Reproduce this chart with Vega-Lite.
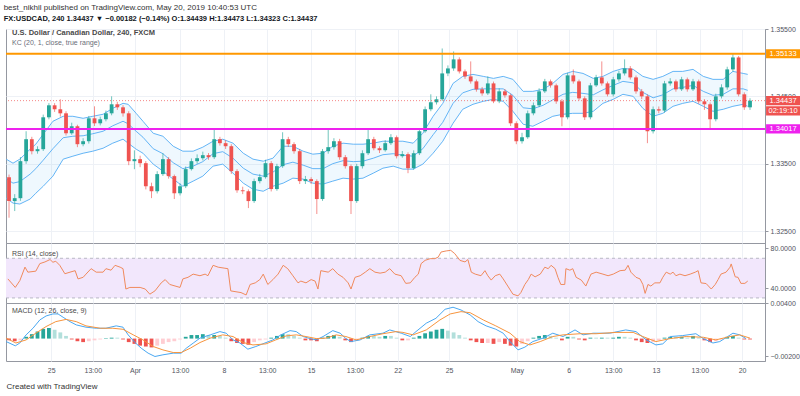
{
  "$schema": "https://vega.github.io/schema/vega-lite/v6.json",
  "background": "white",
  "padding": {"left": 3, "top": 4, "right": 0, "bottom": 0},
  "bounds": "flush",
  "spacing": 0,
  "resolve": {"scale": {"color": "independent"}},
  "title": {
    "text": "best_nikhil published on TradingView.com, May 20, 2019 10:40:53 UTC",
    "subtitle": "FX:USDCAD, 240  1.34437 ▼ −0.00182 (−0.14%)  O:1.34439  H:1.34473  L:1.34323  C:1.34437",
    "anchor": "start", "font": "Liberation Sans", "fontSize": 8, "fontWeight": "normal", "color": "#333333",
    "subtitleFont": "Liberation Sans", "subtitleFontSize": 7.5, "subtitleFontWeight": "bold", "subtitleColor": "#131722",
    "subtitlePadding": 3, "offset": 2
  },
  "datasets": {
    "candles": [
      {"i":0,"o":1.33302,"h":1.33340,"l":1.32700,"c":1.32947},
      {"i":1,"o":1.32947,"h":1.33050,"l":1.32799,"c":1.32990},
      {"i":2,"o":1.32990,"h":1.33600,"l":1.32950,"c":1.33539},
      {"i":3,"o":1.33539,"h":1.33983,"l":1.33500,"c":1.33865},
      {"i":4,"o":1.33865,"h":1.33900,"l":1.33640,"c":1.33687},
      {"i":5,"o":1.33687,"h":1.33760,"l":1.33650,"c":1.33717},
      {"i":6,"o":1.33717,"h":1.34230,"l":1.33690,"c":1.34190},
      {"i":7,"o":1.34190,"h":1.34400,"l":1.34160,"c":1.34368},
      {"i":8,"o":1.34368,"h":1.34400,"l":1.34270,"c":1.34309},
      {"i":9,"o":1.34309,"h":1.34457,"l":1.34200,"c":1.34249},
      {"i":10,"o":1.34249,"h":1.34280,"l":1.33920,"c":1.33953},
      {"i":11,"o":1.33953,"h":1.34110,"l":1.33930,"c":1.34057},
      {"i":12,"o":1.34057,"h":1.34080,"l":1.33747,"c":1.33791},
      {"i":13,"o":1.33791,"h":1.33880,"l":1.33760,"c":1.33835},
      {"i":14,"o":1.33835,"h":1.34210,"l":1.33800,"c":1.34175},
      {"i":15,"o":1.34175,"h":1.34353,"l":1.34060,"c":1.34101},
      {"i":16,"o":1.34101,"h":1.34200,"l":1.34070,"c":1.34161},
      {"i":17,"o":1.34161,"h":1.34290,"l":1.34130,"c":1.34249},
      {"i":18,"o":1.34249,"h":1.34501,"l":1.34220,"c":1.34383},
      {"i":19,"o":1.34383,"h":1.34420,"l":1.34300,"c":1.34338},
      {"i":20,"o":1.34338,"h":1.34370,"l":1.34200,"c":1.34249},
      {"i":21,"o":1.34249,"h":1.34280,"l":1.33480,"c":1.33539},
      {"i":22,"o":1.33539,"h":1.33700,"l":1.33420,"c":1.33569},
      {"i":23,"o":1.33569,"h":1.33620,"l":1.33450,"c":1.33509},
      {"i":24,"o":1.33509,"h":1.33540,"l":1.33120,"c":1.33167},
      {"i":25,"o":1.33167,"h":1.33220,"l":1.32991,"c":1.33093},
      {"i":26,"o":1.33093,"h":1.33390,"l":1.33060,"c":1.33347},
      {"i":27,"o":1.33347,"h":1.33657,"l":1.33320,"c":1.33569},
      {"i":28,"o":1.33569,"h":1.33600,"l":1.33280,"c":1.33317},
      {"i":29,"o":1.33317,"h":1.33340,"l":1.32977,"c":1.33063},
      {"i":30,"o":1.33063,"h":1.33210,"l":1.33030,"c":1.33167},
      {"i":31,"o":1.33167,"h":1.33460,"l":1.33140,"c":1.33421},
      {"i":32,"o":1.33421,"h":1.33580,"l":1.33400,"c":1.33539},
      {"i":33,"o":1.33539,"h":1.33640,"l":1.33500,"c":1.33583},
      {"i":34,"o":1.33583,"h":1.33680,"l":1.33550,"c":1.33628},
      {"i":35,"o":1.33628,"h":1.33660,"l":1.33560,"c":1.33598},
      {"i":36,"o":1.33598,"h":1.34013,"l":1.33570,"c":1.33865},
      {"i":37,"o":1.33865,"h":1.33900,"l":1.33770,"c":1.33806},
      {"i":38,"o":1.33806,"h":1.33850,"l":1.33720,"c":1.33761},
      {"i":39,"o":1.33761,"h":1.33790,"l":1.33350,"c":1.33391},
      {"i":40,"o":1.33391,"h":1.33420,"l":1.33070,"c":1.33107},
      {"i":41,"o":1.33107,"h":1.33160,"l":1.33050,"c":1.33093},
      {"i":42,"o":1.33093,"h":1.33120,"l":1.32843,"c":1.32947},
      {"i":43,"o":1.32947,"h":1.33280,"l":1.32920,"c":1.33243},
      {"i":44,"o":1.33243,"h":1.33350,"l":1.33210,"c":1.33302},
      {"i":45,"o":1.33302,"h":1.33560,"l":1.33280,"c":1.33509},
      {"i":46,"o":1.33509,"h":1.33540,"l":1.33090,"c":1.33125},
      {"i":47,"o":1.33125,"h":1.33500,"l":1.33100,"c":1.33465},
      {"i":48,"o":1.33465,"h":1.33968,"l":1.33440,"c":1.33865},
      {"i":49,"o":1.33865,"h":1.33900,"l":1.33750,"c":1.33791},
      {"i":50,"o":1.33791,"h":1.33820,"l":1.33650,"c":1.33687},
      {"i":51,"o":1.33687,"h":1.33720,"l":1.33200,"c":1.33243},
      {"i":52,"o":1.33243,"h":1.33320,"l":1.33200,"c":1.33273},
      {"i":53,"o":1.33273,"h":1.33300,"l":1.33200,"c":1.33243},
      {"i":54,"o":1.33243,"h":1.33270,"l":1.32755,"c":1.32977},
      {"i":55,"o":1.32977,"h":1.33720,"l":1.32950,"c":1.33687},
      {"i":56,"o":1.33687,"h":1.34013,"l":1.33650,"c":1.33747},
      {"i":57,"o":1.33747,"h":1.33880,"l":1.33710,"c":1.33835},
      {"i":58,"o":1.33835,"h":1.33870,"l":1.33560,"c":1.33598},
      {"i":59,"o":1.33598,"h":1.33630,"l":1.33430,"c":1.33465},
      {"i":60,"o":1.33465,"h":1.33490,"l":1.32755,"c":1.32947},
      {"i":61,"o":1.32947,"h":1.33500,"l":1.32920,"c":1.33465},
      {"i":62,"o":1.33465,"h":1.33700,"l":1.33430,"c":1.33657},
      {"i":63,"o":1.33657,"h":1.34013,"l":1.33630,"c":1.33865},
      {"i":64,"o":1.33865,"h":1.33900,"l":1.33700,"c":1.33731},
      {"i":65,"o":1.33731,"h":1.33760,"l":1.33660,"c":1.33702},
      {"i":66,"o":1.33702,"h":1.33850,"l":1.33680,"c":1.33806},
      {"i":67,"o":1.33806,"h":1.33940,"l":1.33780,"c":1.33894},
      {"i":68,"o":1.33894,"h":1.33920,"l":1.33580,"c":1.33613},
      {"i":69,"o":1.33613,"h":1.33690,"l":1.33590,"c":1.33643},
      {"i":70,"o":1.33643,"h":1.33670,"l":1.33361,"c":1.33435},
      {"i":71,"o":1.33435,"h":1.33700,"l":1.33410,"c":1.33657},
      {"i":72,"o":1.33657,"h":1.34020,"l":1.33630,"c":1.33983},
      {"i":73,"o":1.33983,"h":1.34350,"l":1.33960,"c":1.34309},
      {"i":74,"o":1.34309,"h":1.34531,"l":1.34280,"c":1.34413},
      {"i":75,"o":1.34413,"h":1.34500,"l":1.34380,"c":1.34457},
      {"i":76,"o":1.34457,"h":1.35211,"l":1.34430,"c":1.34841},
      {"i":77,"o":1.34841,"h":1.34960,"l":1.34800,"c":1.34915},
      {"i":78,"o":1.34915,"h":1.35167,"l":1.34880,"c":1.35049},
      {"i":79,"o":1.35049,"h":1.35080,"l":1.34840,"c":1.34871},
      {"i":80,"o":1.34871,"h":1.34900,"l":1.34760,"c":1.34797},
      {"i":81,"o":1.34797,"h":1.35019,"l":1.34690,"c":1.34723},
      {"i":82,"o":1.34723,"h":1.34750,"l":1.34570,"c":1.34605},
      {"i":83,"o":1.34605,"h":1.34640,"l":1.34510,"c":1.34545},
      {"i":84,"o":1.34545,"h":1.34797,"l":1.34520,"c":1.34693},
      {"i":85,"o":1.34693,"h":1.34720,"l":1.34400,"c":1.34427},
      {"i":86,"o":1.34427,"h":1.34620,"l":1.34400,"c":1.34575},
      {"i":87,"o":1.34575,"h":1.34610,"l":1.34480,"c":1.34516},
      {"i":88,"o":1.34516,"h":1.34540,"l":1.34060,"c":1.34101},
      {"i":89,"o":1.34101,"h":1.34130,"l":1.33791,"c":1.33835},
      {"i":90,"o":1.33835,"h":1.33960,"l":1.33800,"c":1.33894},
      {"i":91,"o":1.33894,"h":1.34290,"l":1.33870,"c":1.34249},
      {"i":92,"o":1.34249,"h":1.34410,"l":1.34220,"c":1.34368},
      {"i":93,"o":1.34368,"h":1.34620,"l":1.34340,"c":1.34575},
      {"i":94,"o":1.34575,"h":1.34760,"l":1.34550,"c":1.34723},
      {"i":95,"o":1.34723,"h":1.34750,"l":1.34630,"c":1.34664},
      {"i":96,"o":1.34664,"h":1.34690,"l":1.34390,"c":1.34427},
      {"i":97,"o":1.34427,"h":1.34460,"l":1.34057,"c":1.34190},
      {"i":98,"o":1.34190,"h":1.34850,"l":1.34160,"c":1.34812},
      {"i":99,"o":1.34812,"h":1.34900,"l":1.34690,"c":1.34723},
      {"i":100,"o":1.34723,"h":1.34750,"l":1.34440,"c":1.34471},
      {"i":101,"o":1.34471,"h":1.34500,"l":1.34150,"c":1.34190},
      {"i":102,"o":1.34190,"h":1.34700,"l":1.34160,"c":1.34664},
      {"i":103,"o":1.34664,"h":1.34820,"l":1.34640,"c":1.34782},
      {"i":104,"o":1.34782,"h":1.35019,"l":1.34660,"c":1.34693},
      {"i":105,"o":1.34693,"h":1.34720,"l":1.34500,"c":1.34531},
      {"i":106,"o":1.34531,"h":1.34790,"l":1.34500,"c":1.34753},
      {"i":107,"o":1.34753,"h":1.34880,"l":1.34720,"c":1.34841},
      {"i":108,"o":1.34841,"h":1.35049,"l":1.34810,"c":1.34915},
      {"i":109,"o":1.34915,"h":1.34950,"l":1.34750,"c":1.34782},
      {"i":110,"o":1.34782,"h":1.34810,"l":1.34540,"c":1.34575},
      {"i":111,"o":1.34575,"h":1.34610,"l":1.34460,"c":1.34501},
      {"i":112,"o":1.34501,"h":1.34530,"l":1.33806,"c":1.33983},
      {"i":113,"o":1.33983,"h":1.34350,"l":1.33950,"c":1.34309},
      {"i":114,"o":1.34309,"h":1.34350,"l":1.34250,"c":1.34290},
      {"i":115,"o":1.34290,"h":1.34730,"l":1.34260,"c":1.34693},
      {"i":116,"o":1.34693,"h":1.34770,"l":1.34660,"c":1.34723},
      {"i":117,"o":1.34723,"h":1.34750,"l":1.34570,"c":1.34605},
      {"i":118,"o":1.34605,"h":1.34790,"l":1.34580,"c":1.34753},
      {"i":119,"o":1.34753,"h":1.34780,"l":1.34570,"c":1.34605},
      {"i":120,"o":1.34605,"h":1.34760,"l":1.34580,"c":1.34723},
      {"i":121,"o":1.34723,"h":1.34750,"l":1.34390,"c":1.34427},
      {"i":122,"o":1.34427,"h":1.34460,"l":1.34300,"c":1.34383},
      {"i":123,"o":1.34383,"h":1.34410,"l":1.34027,"c":1.34161},
      {"i":124,"o":1.34161,"h":1.34540,"l":1.34130,"c":1.34501},
      {"i":125,"o":1.34501,"h":1.34680,"l":1.34470,"c":1.34634},
      {"i":126,"o":1.34634,"h":1.34940,"l":1.34600,"c":1.34901},
      {"i":127,"o":1.34901,"h":1.35137,"l":1.34870,"c":1.35078},
      {"i":128,"o":1.35078,"h":1.35100,"l":1.34500,"c":1.34531},
      {"i":129,"o":1.34531,"h":1.34560,"l":1.34300,"c":1.34338},
      {"i":130,"o":1.34338,"h":1.34473,"l":1.34300,"c":1.34437}
    ],
    "kc": [
      {"i":-0.5,"u":1.33569,"m":1.33280,"l":1.32991},
      {"i":0.7,"u":1.33509,"m":1.33213,"l":1.32917},
      {"i":1.9,"u":1.33569,"m":1.33236,"l":1.32903},
      {"i":3.7,"u":1.33717,"m":1.33347,"l":1.32977},
      {"i":4.7,"u":1.33791,"m":1.33428,"l":1.33063},
      {"i":6.0,"u":1.33939,"m":1.33554,"l":1.33167},
      {"i":7.7,"u":1.34131,"m":1.33724,"l":1.33317},
      {"i":9.5,"u":1.34205,"m":1.33887,"l":1.33569},
      {"i":11.2,"u":1.34205,"m":1.33909,"l":1.33613},
      {"i":13.0,"u":1.34175,"m":1.33916,"l":1.33657},
      {"i":14.7,"u":1.34205,"m":1.33946,"l":1.33687},
      {"i":16.5,"u":1.34235,"m":1.33983,"l":1.33731},
      {"i":18.2,"u":1.34323,"m":1.34064,"l":1.33806},
      {"i":20.0,"u":1.34397,"m":1.34131,"l":1.33865},
      {"i":20.9,"u":1.34383,"m":1.34094,"l":1.33806},
      {"i":22.3,"u":1.34249,"m":1.33983,"l":1.33717},
      {"i":23.5,"u":1.34131,"m":1.33894,"l":1.33657},
      {"i":25.3,"u":1.33953,"m":1.33724,"l":1.33495},
      {"i":27.0,"u":1.33909,"m":1.33650,"l":1.33391},
      {"i":28.8,"u":1.33761,"m":1.33517,"l":1.33273},
      {"i":30.5,"u":1.33687,"m":1.33428,"l":1.33167},
      {"i":32.3,"u":1.33687,"m":1.33465,"l":1.33243},
      {"i":34.0,"u":1.33747,"m":1.33532,"l":1.33317},
      {"i":35.8,"u":1.33835,"m":1.33650,"l":1.33465},
      {"i":37.5,"u":1.33865,"m":1.33680,"l":1.33495},
      {"i":39.3,"u":1.33806,"m":1.33583,"l":1.33361},
      {"i":41.1,"u":1.33657,"m":1.33435,"l":1.33213},
      {"i":42.8,"u":1.33569,"m":1.33347,"l":1.33123},
      {"i":44.6,"u":1.33539,"m":1.33317,"l":1.33093},
      {"i":46.3,"u":1.33583,"m":1.33376,"l":1.33167},
      {"i":48.1,"u":1.33761,"m":1.33487,"l":1.33213},
      {"i":49.8,"u":1.33761,"m":1.33524,"l":1.33287},
      {"i":51.6,"u":1.33687,"m":1.33480,"l":1.33273},
      {"i":53.3,"u":1.33643,"m":1.33428,"l":1.33213},
      {"i":55.1,"u":1.33657,"m":1.33428,"l":1.33199},
      {"i":56.8,"u":1.33761,"m":1.33502,"l":1.33243},
      {"i":58.6,"u":1.33806,"m":1.33546,"l":1.33287},
      {"i":60.4,"u":1.33791,"m":1.33532,"l":1.33273},
      {"i":62.1,"u":1.33791,"m":1.33539,"l":1.33287},
      {"i":63.9,"u":1.33806,"m":1.33583,"l":1.33361},
      {"i":65.6,"u":1.33835,"m":1.33635,"l":1.33435},
      {"i":67.4,"u":1.33835,"m":1.33650,"l":1.33465},
      {"i":69.1,"u":1.33835,"m":1.33628,"l":1.33421},
      {"i":70.9,"u":1.33806,"m":1.33613,"l":1.33421},
      {"i":72.6,"u":1.33953,"m":1.33724,"l":1.33495},
      {"i":74.4,"u":1.34205,"m":1.33931,"l":1.33657},
      {"i":76.1,"u":1.34397,"m":1.34116,"l":1.33835},
      {"i":77.9,"u":1.34693,"m":1.34397,"l":1.34101},
      {"i":79.6,"u":1.34797,"m":1.34553,"l":1.34309},
      {"i":81.4,"u":1.34827,"m":1.34605,"l":1.34383},
      {"i":83.2,"u":1.34797,"m":1.34612,"l":1.34427},
      {"i":85.0,"u":1.34767,"m":1.34612,"l":1.34457},
      {"i":86.7,"u":1.34797,"m":1.34612,"l":1.34427},
      {"i":88.4,"u":1.34753,"m":1.34516,"l":1.34279},
      {"i":90.2,"u":1.34575,"m":1.34331,"l":1.34087},
      {"i":91.9,"u":1.34575,"m":1.34316,"l":1.34057},
      {"i":93.7,"u":1.34605,"m":1.34368,"l":1.34131},
      {"i":95.4,"u":1.34693,"m":1.34449,"l":1.34205},
      {"i":97.2,"u":1.34827,"m":1.34531,"l":1.34235},
      {"i":98.9,"u":1.34871,"m":1.34560,"l":1.34249},
      {"i":100.7,"u":1.34841,"m":1.34545,"l":1.34249},
      {"i":102.5,"u":1.34767,"m":1.34523,"l":1.34279},
      {"i":104.2,"u":1.34797,"m":1.34597,"l":1.34397},
      {"i":106.0,"u":1.34871,"m":1.34664,"l":1.34457},
      {"i":107.7,"u":1.34915,"m":1.34723,"l":1.34531},
      {"i":109.5,"u":1.34901,"m":1.34701,"l":1.34501},
      {"i":111.2,"u":1.34797,"m":1.34560,"l":1.34323},
      {"i":113.0,"u":1.34753,"m":1.34479,"l":1.34205},
      {"i":114.7,"u":1.34797,"m":1.34523,"l":1.34249},
      {"i":116.5,"u":1.34871,"m":1.34612,"l":1.34353},
      {"i":118.2,"u":1.34871,"m":1.34634,"l":1.34397},
      {"i":120.0,"u":1.34901,"m":1.34664,"l":1.34427},
      {"i":121.8,"u":1.34797,"m":1.34575,"l":1.34353},
      {"i":123.5,"u":1.34753,"m":1.34516,"l":1.34279},
      {"i":125.3,"u":1.34753,"m":1.34531,"l":1.34309},
      {"i":127.0,"u":1.34871,"m":1.34612,"l":1.34353},
      {"i":128.8,"u":1.34841,"m":1.34612,"l":1.34383},
      {"i":129.6,"u":1.34827,"m":1.34590,"l":1.34353}
    ],
    "rsi": [
      {"i":-0.2,"v":49.2},{"i":1.1,"v":40.6},{"i":1.9,"v":47.5},{"i":2.8,"v":61.1},{"i":3.3,"v":56},{"i":4.7,"v":57},
      {"i":5.4,"v":64.6},{"i":6.3,"v":66.3},{"i":7.2,"v":68.7},{"i":7.7,"v":66},{"i":8.2,"v":67},{"i":8.9,"v":62.9},
      {"i":9.8,"v":54.4},{"i":10.7,"v":56},{"i":11.6,"v":57.5},{"i":12.1,"v":49.2},{"i":13.0,"v":50.8},{"i":13.5,"v":54},
      {"i":14.4,"v":59.5},{"i":15.3,"v":56},{"i":16.5,"v":56},{"i":17.0,"v":59.5},{"i":17.9,"v":58},{"i":18.6,"v":62.9},
      {"i":19.5,"v":61},{"i":20.0,"v":59.5},{"i":20.5,"v":39},{"i":21.2,"v":40.6},{"i":23.0,"v":40.6},{"i":23.9,"v":39},
      {"i":24.7,"v":33.8},{"i":25.6,"v":37.1},{"i":26.7,"v":45.2},{"i":27.4,"v":48.5},{"i":28.2,"v":43.6},{"i":30.0,"v":40.6},
      {"i":30.5,"v":49.2},{"i":31.4,"v":50.8},{"i":32.3,"v":54},{"i":33.5,"v":52.4},{"i":34.4,"v":54},{"i":34.9,"v":52.4},
      {"i":35.8,"v":62.9},{"i":36.7,"v":61},{"i":38.4,"v":59.5},{"i":38.9,"v":37.1},{"i":40.7,"v":35.4},{"i":41.6,"v":33},
      {"i":42.3,"v":43.6},{"i":43.2,"v":45.2},{"i":44.0,"v":48.5},{"i":44.6,"v":54},{"i":45.4,"v":43.6},{"i":46.3,"v":48.5},
      {"i":47.2,"v":54},{"i":48.1,"v":62.9},{"i":48.9,"v":59.5},{"i":49.8,"v":52.4},{"i":50.7,"v":45.2},{"i":51.2,"v":47},
      {"i":52.1,"v":45.2},{"i":53.0,"v":48.5},{"i":53.7,"v":47},{"i":54.2,"v":39},{"i":54.7,"v":57.5},{"i":56.0,"v":56},
      {"i":56.8,"v":59.5},{"i":57.7,"v":54},{"i":58.6,"v":50.8},{"i":59.5,"v":45.2},{"i":60.0,"v":39},{"i":60.7,"v":50.8},
      {"i":61.6,"v":52.4},{"i":62.5,"v":56},{"i":63.3,"v":59.5},{"i":64.2,"v":56},{"i":65.1,"v":55},{"i":66.0,"v":56},
      {"i":66.8,"v":59.5},{"i":67.7,"v":54},{"i":68.8,"v":52.4},{"i":69.6,"v":44.7},{"i":70.4,"v":45.2},{"i":71.2,"v":50.8},
      {"i":71.8,"v":54},{"i":72.3,"v":64.6},{"i":73.0,"v":67.9},{"i":73.9,"v":69.6},{"i":74.7,"v":69.6},{"i":75.3,"v":71.2},
      {"i":75.8,"v":76.3},{"i":76.7,"v":77.4},{"i":77.5,"v":78},{"i":78.2,"v":74.7},{"i":79.1,"v":67.9},{"i":80.0,"v":66.3},
      {"i":80.5,"v":68.7},{"i":81.1,"v":56},{"i":81.8,"v":54},{"i":82.8,"v":52.4},{"i":83.5,"v":57.5},{"i":84.0,"v":52.4},
      {"i":84.6,"v":48},{"i":85.3,"v":52.4},{"i":86.1,"v":54},{"i":86.7,"v":49.2},{"i":87.5,"v":42},{"i":88.4,"v":33.8},
      {"i":89.3,"v":32.1},{"i":89.8,"v":35.4},{"i":90.5,"v":43.6},{"i":91.1,"v":48.5},{"i":91.6,"v":54},{"i":92.3,"v":51.3},
      {"i":93.2,"v":54},{"i":94.0,"v":61},{"i":94.6,"v":59.5},{"i":95.1,"v":62.9},{"i":95.8,"v":59.5},{"i":96.3,"v":50.8},
      {"i":96.8,"v":43.6},{"i":97.5,"v":43.6},{"i":97.7,"v":59.5},{"i":98.4,"v":58},{"i":98.9,"v":59.5},{"i":99.5,"v":50.8},
      {"i":100.4,"v":48},{"i":101.2,"v":42},{"i":102.1,"v":54},{"i":103.0,"v":56},{"i":104.2,"v":54},{"i":105.1,"v":52.4},
      {"i":106.0,"v":54},{"i":107.2,"v":57.5},{"i":108.1,"v":58},{"i":108.6,"v":62.9},{"i":109.1,"v":56},{"i":110.0,"v":50.8},
      {"i":110.7,"v":49.2},{"i":111.2,"v":43.6},{"i":111.6,"v":34.6},{"i":112.1,"v":43.6},{"i":112.6,"v":42},{"i":113.3,"v":45.2},
      {"i":114.2,"v":45.2},{"i":114.7,"v":50.8},{"i":115.3,"v":56},{"i":116.0,"v":54},{"i":116.5,"v":56},{"i":117.0,"v":52.4},
      {"i":117.7,"v":54},{"i":118.6,"v":52.4},{"i":119.5,"v":54},{"i":120.4,"v":56},{"i":120.9,"v":57.5},{"i":121.4,"v":45.2},
      {"i":122.3,"v":44.5},{"i":123.2,"v":39},{"i":123.9,"v":43.6},{"i":124.4,"v":48.5},{"i":124.9,"v":54},{"i":125.8,"v":56},
      {"i":126.5,"v":61},{"i":126.7,"v":64.3},{"i":127.4,"v":51.3},{"i":127.9,"v":50.8},{"i":128.4,"v":44.7},{"i":129.1,"v":44.7},
      {"i":129.6,"v":47}
    ],
    "macd": [
      {"i":-0.5,"v":-0.00034},{"i":1.1,"v":-0.00082},{"i":1.9,"v":-0.0005},{"i":3.0,"v":0.00042},{"i":4.2,"v":0.00117},
      {"i":5.4,"v":0.00211},{"i":6.5,"v":0.00256},{"i":7.7,"v":0.00279},{"i":8.6,"v":0.00279},{"i":9.5,"v":0.00241},
      {"i":10.7,"v":0.00192},{"i":11.8,"v":0.00155},{"i":13.5,"v":0.00129},{"i":15.3,"v":0.00117},{"i":17.0,"v":0.00117},
      {"i":18.8,"v":0.00144},{"i":20.0,"v":0.00129},{"i":20.9,"v":0.00042},{"i":22.1,"v":-0.00045},{"i":23.2,"v":-0.00109},
      {"i":24.4,"v":-0.00165},{"i":25.6,"v":-0.00203},{"i":27.0,"v":-0.00184},{"i":28.8,"v":-0.00165},{"i":30.2,"v":-0.00165},
      {"i":31.1,"v":-0.00109},{"i":32.3,"v":-0.00052},{"i":33.5,"v":0.00005},{"i":35.3,"v":0.00042},{"i":37.0,"v":0.00079},
      {"i":38.1,"v":0.00061},{"i":39.3,"v":-0.00015},{"i":40.5,"v":-0.0005},{"i":41.9,"v":-0.0012},{"i":43.3,"v":-0.0009},
      {"i":44.9,"v":-0.0005},{"i":46.3,"v":-0.00015},{"i":47.7,"v":0.00042},{"i":49.3,"v":0.0009},{"i":50.4,"v":0.00079},
      {"i":51.6,"v":0.00023},{"i":52.8,"v":0.0},{"i":53.9,"v":-0.00015},{"i":55.1,"v":0.00023},{"i":56.8,"v":0.0009},
      {"i":58.1,"v":0.00061},{"i":59.1,"v":0.0},{"i":60.0,"v":-0.00034},{"i":61.6,"v":-0.00015},{"i":63.3,"v":0.00042},
      {"i":65.6,"v":0.00061},{"i":66.8,"v":0.00098},{"i":68.8,"v":0.00061},{"i":70.4,"v":0.00023},{"i":71.4,"v":0.00079},
      {"i":73.2,"v":0.00174},{"i":74.9,"v":0.0023},{"i":76.5,"v":0.00332},{"i":77.9,"v":0.00355},{"i":79.3,"v":0.00324},
      {"i":80.9,"v":0.00268},{"i":82.3,"v":0.00192},{"i":83.7,"v":0.00144},{"i":85.4,"v":0.00106},{"i":86.7,"v":0.00061},
      {"i":87.9,"v":-0.00034},{"i":89.3,"v":-0.00128},{"i":90.5,"v":-0.00097},{"i":91.9,"v":-0.00034},{"i":93.7,"v":0.00005},
      {"i":95.4,"v":0.00061},{"i":97.2,"v":0.00023},{"i":99.3,"v":0.00098},{"i":100.7,"v":0.00042},{"i":102.5,"v":0.00061},
      {"i":105.4,"v":0.00061},{"i":108.2,"v":0.00098},{"i":110.0,"v":0.00079},{"i":111.8,"v":-0.00015},{"i":113.5,"v":-0.00072},
      {"i":114.7,"v":-0.0006},{"i":116.0,"v":0.00023},{"i":118.2,"v":0.00034},{"i":120.5,"v":0.00055},{"i":121.8,"v":0.0},
      {"i":123.5,"v":-0.0005},{"i":124.7,"v":-0.00034},{"i":126.1,"v":0.00023},{"i":127.0,"v":0.00061},{"i":128.2,"v":0.00042},
      {"i":129.3,"v":0.0}
    ],
    "signal": [
      {"i":-0.5,"v":0.00005},{"i":1.2,"v":-0.0005},{"i":3.0,"v":-0.00015},{"i":4.7,"v":0.00061},{"i":6.5,"v":0.00136},
      {"i":8.2,"v":0.00192},{"i":10.0,"v":0.00217},{"i":11.8,"v":0.00192},{"i":13.5,"v":0.00144},{"i":16.0,"v":0.00117},
      {"i":18.2,"v":0.00117},{"i":20.0,"v":0.00105},{"i":21.8,"v":0.00042},{"i":23.5,"v":-0.00015},{"i":25.3,"v":-0.0009},
      {"i":27.0,"v":-0.00128},{"i":28.8,"v":-0.00158},{"i":30.2,"v":-0.00158},{"i":31.8,"v":-0.00109},{"i":33.5,"v":-0.00045},
      {"i":35.3,"v":0.00005},{"i":37.5,"v":0.00042},{"i":39.3,"v":0.00023},{"i":41.1,"v":-0.00045},{"i":42.8,"v":-0.00072},
      {"i":45.1,"v":-0.0006},{"i":46.8,"v":-0.00015},{"i":48.6,"v":0.0003},{"i":50.4,"v":0.00042},{"i":52.1,"v":0.00023},
      {"i":53.9,"v":0.0},{"i":55.6,"v":0.00005},{"i":57.4,"v":0.00042},{"i":59.1,"v":0.00023},{"i":60.9,"v":-0.00015},
      {"i":63.3,"v":0.00023},{"i":65.6,"v":0.00055},{"i":67.9,"v":0.00079},{"i":69.1,"v":0.0007},{"i":70.9,"v":0.00042},
      {"i":73.2,"v":0.00098},{"i":75.6,"v":0.00211},{"i":77.4,"v":0.00279},{"i":79.3,"v":0.00305},{"i":80.9,"v":0.00293},
      {"i":83.2,"v":0.00211},{"i":85.4,"v":0.00144},{"i":87.9,"v":0.00061},{"i":89.6,"v":-0.00034},{"i":91.4,"v":-0.00072},
      {"i":93.2,"v":-0.00034},{"i":95.4,"v":0.00023},{"i":97.2,"v":0.00042},{"i":100.2,"v":0.00055},{"i":103.0,"v":0.00055},
      {"i":106.5,"v":0.0007},{"i":109.5,"v":0.0007},{"i":111.2,"v":0.00023},{"i":113.5,"v":-0.00034},{"i":116.0,"v":0.0},
      {"i":118.8,"v":0.00023},{"i":121.8,"v":0.00015},{"i":124.0,"v":-0.00015},{"i":126.5,"v":0.00023},{"i":128.2,"v":0.00042},
      {"i":130.0,"v":0.00005}
    ],
    "hist": [
      {"i":0,"h":-0.0002,"t":"dn-"},{"i":1,"h":-0.0003,"t":"dn-"},{"i":2,"h":-0.0002,"t":"up-"},{"i":3,"h":0.0002,"t":"up+"},
      {"i":4,"h":0.0005,"t":"up+"},{"i":5,"h":0.0008,"t":"up+"},{"i":6,"h":0.0011,"t":"up+"},{"i":7,"h":0.0012,"t":"up+"},
      {"i":8,"h":0.001,"t":"dn+"},{"i":9,"h":0.0007,"t":"dn+"},{"i":10,"h":0.0003,"t":"dn+"},{"i":11,"h":-0.0001,"t":"dn-"},
      {"i":12,"h":-0.0003,"t":"dn-"},{"i":13,"h":-0.0004,"t":"dn-"},{"i":14,"h":-0.0003,"t":"up-"},{"i":15,"h":-0.0002,"t":"up-"},
      {"i":16,"h":-0.0001,"t":"up-"},{"i":17,"h":0.00005,"t":"up+"},{"i":18,"h":0.0001,"t":"up+"},{"i":19,"h":0.0001,"t":"dn+"},
      {"i":20,"h":-0.0001,"t":"dn-"},{"i":21,"h":-0.0004,"t":"dn-"},{"i":22,"h":-0.0006,"t":"dn-"},{"i":23,"h":-0.0008,"t":"dn-"},
      {"i":24,"h":-0.0009,"t":"dn-"},{"i":25,"h":-0.001,"t":"dn-"},{"i":26,"h":-0.0008,"t":"up-"},{"i":27,"h":-0.0006,"t":"up-"},
      {"i":28,"h":-0.0004,"t":"up-"},{"i":29,"h":-0.0003,"t":"up-"},{"i":30,"h":-0.0001,"t":"up-"},{"i":31,"h":0.0002,"t":"up+"},
      {"i":32,"h":0.0004,"t":"up+"},{"i":33,"h":0.0004,"t":"up+"},{"i":34,"h":0.0005,"t":"up+"},{"i":35,"h":0.0004,"t":"dn+"},
      {"i":36,"h":0.0004,"t":"up+"},{"i":37,"h":0.0003,"t":"dn+"},{"i":38,"h":0.0001,"t":"dn+"},{"i":39,"h":-0.0003,"t":"dn-"},
      {"i":40,"h":-0.0005,"t":"dn-"},{"i":41,"h":-0.0006,"t":"dn-"},{"i":42,"h":-0.0007,"t":"dn-"},{"i":43,"h":-0.0004,"t":"up-"},
      {"i":44,"h":-0.0002,"t":"up-"},{"i":45,"h":-0.0001,"t":"up-"},{"i":46,"h":0.0001,"t":"up+"},{"i":47,"h":0.0003,"t":"up+"},
      {"i":48,"h":0.0005,"t":"up+"},{"i":49,"h":0.0005,"t":"dn+"},{"i":50,"h":0.0003,"t":"dn+"},{"i":51,"h":0.0001,"t":"dn+"},
      {"i":52,"h":-0.0002,"t":"dn-"},{"i":53,"h":-0.0002,"t":"dn-"},{"i":54,"h":-0.0003,"t":"dn-"},{"i":55,"h":0.0001,"t":"up+"},
      {"i":56,"h":0.0003,"t":"up+"},{"i":57,"h":0.0004,"t":"up+"},{"i":58,"h":0.0002,"t":"dn+"},{"i":59,"h":-0.0002,"t":"dn-"},
      {"i":60,"h":-0.0004,"t":"dn-"},{"i":61,"h":-0.0002,"t":"up-"},{"i":62,"h":0.0001,"t":"up+"},{"i":63,"h":0.0003,"t":"up+"},
      {"i":64,"h":0.0003,"t":"dn+"},{"i":65,"h":0.0002,"t":"dn+"},{"i":66,"h":0.0003,"t":"up+"},{"i":67,"h":0.0003,"t":"dn+"},
      {"i":68,"h":0.0001,"t":"dn+"},{"i":69,"h":-0.0002,"t":"dn-"},{"i":70,"h":-0.0002,"t":"up-"},{"i":71,"h":0.0001,"t":"up+"},
      {"i":72,"h":0.0003,"t":"up+"},{"i":73,"h":0.0006,"t":"up+"},{"i":74,"h":0.0008,"t":"up+"},{"i":75,"h":0.001,"t":"up+"},
      {"i":76,"h":0.0011,"t":"up+"},{"i":77,"h":0.0009,"t":"dn+"},{"i":78,"h":0.0007,"t":"dn+"},{"i":79,"h":0.0004,"t":"dn+"},
      {"i":80,"h":0.0001,"t":"dn+"},{"i":81,"h":-0.0002,"t":"dn-"},{"i":82,"h":-0.0004,"t":"dn-"},{"i":83,"h":-0.0005,"t":"dn-"},
      {"i":84,"h":-0.0005,"t":"up-"},{"i":85,"h":-0.0006,"t":"dn-"},{"i":86,"h":-0.0004,"t":"up-"},{"i":87,"h":-0.0006,"t":"dn-"},
      {"i":88,"h":-0.0008,"t":"dn-"},{"i":89,"h":-0.0009,"t":"dn-"},{"i":90,"h":-0.0006,"t":"up-"},{"i":91,"h":-0.0003,"t":"up-"},
      {"i":92,"h":0.0001,"t":"up+"},{"i":93,"h":0.0003,"t":"up+"},{"i":94,"h":0.0004,"t":"up+"},{"i":95,"h":0.0003,"t":"dn+"},
      {"i":96,"h":0.0001,"t":"dn+"},{"i":97,"h":-0.0002,"t":"dn-"},{"i":98,"h":0.0002,"t":"up+"},{"i":99,"h":0.0002,"t":"dn+"},
      {"i":100,"h":-0.0001,"t":"dn-"},{"i":101,"h":-0.0002,"t":"dn-"},{"i":102,"h":0.0001,"t":"up+"},{"i":103,"h":0.0001,"t":"dn+"},
      {"i":104,"h":0.0001,"t":"up+"},{"i":105,"h":0.0001,"t":"dn+"},{"i":106,"h":0.0001,"t":"up+"},{"i":107,"h":0.0002,"t":"up+"},
      {"i":108,"h":0.0002,"t":"dn+"},{"i":109,"h":0.0001,"t":"dn+"},{"i":110,"h":-0.0002,"t":"dn-"},{"i":111,"h":-0.0004,"t":"dn-"},
      {"i":112,"h":-0.0005,"t":"dn-"},{"i":113,"h":-0.0004,"t":"up-"},{"i":114,"h":-0.0002,"t":"up-"},{"i":115,"h":0.0001,"t":"up+"},
      {"i":116,"h":0.0002,"t":"up+"},{"i":117,"h":0.0002,"t":"dn+"},{"i":118,"h":0.0002,"t":"up+"},{"i":119,"h":0.0001,"t":"dn+"},
      {"i":120,"h":0.0003,"t":"up+"},{"i":121,"h":0.0001,"t":"dn+"},{"i":122,"h":-0.0002,"t":"dn-"},{"i":123,"h":-0.0004,"t":"dn-"},
      {"i":124,"h":-0.0003,"t":"up-"},{"i":125,"h":-0.0001,"t":"up-"},{"i":126,"h":0.0002,"t":"up+"},{"i":127,"h":0.0003,"t":"up+"},
      {"i":128,"h":0.0001,"t":"dn+"},{"i":129,"h":-0.0001,"t":"dn-"},{"i":130,"h":-0.0001,"t":"dn-"}
    ],
    "tags": [
      {"p":1.35133,"t":"1.35133","k":"resistance"},
      {"p":1.34017,"t":"1.34017","k":"support"},
      {"p":1.34437,"t":"1.34437","k":"last"}
    ]
  },
  "vconcat": [
    {
      "width": 759,
      "height": 214,
      "title": {"text": "U.S. Dollar / Canadian Dollar, 240, FXCM", "subtitle": "KC (20, 1, close, true range)", "anchor": "start", "frame": "group", "offset": -21, "dx": 6, "font": "Liberation Sans", "fontSize": 7.5, "fontWeight": "bold", "color": "#4a4a4a", "subtitleFont": "Liberation Sans", "subtitleFontSize": 7, "subtitleColor": "#6a6d78", "subtitlePadding": 3},
      "layer": [
        {
          "data": {"name": "kc"},
          "encoding": {
            "x": {"field": "i", "type": "quantitative", "scale": {"domain": [-0.53, 132.63], "nice": false, "zero": false, "padding": 0}, "axis": {"values": [7.4,14.7,22.1,30,37.7,45.3,53,60.7,68.2,77.2,89.1,98.2,106,113.5,121.2,128.6], "labels": false, "ticks": false, "domain": false, "grid": true, "title": null}}
          },
          "layer": [
            {"mark": {"type": "area", "color": "#2196f3", "opacity": 0.07}, "encoding": {"y": {"field": "u", "type": "quantitative", "scale": {"domain": [1.32325, 1.3550], "nice": false, "zero": false, "padding": 0}, "axis": {"orient": "right", "values": [1.325,1.33,1.335,1.34,1.345,1.35,1.355], "format": ".5f", "title": null, "grid": true, "tickSize": 3, "labelPadding": 2}}, "y2": {"field": "l"}}},
            {"mark": {"type": "line", "color": "#64b5f6", "strokeWidth": 1}, "encoding": {"y": {"field": "u", "type": "quantitative"}}},
            {"mark": {"type": "line", "color": "#64b5f6", "strokeWidth": 1}, "encoding": {"y": {"field": "m", "type": "quantitative"}}},
            {"mark": {"type": "line", "color": "#64b5f6", "strokeWidth": 1}, "encoding": {"y": {"field": "l", "type": "quantitative"}}}
          ]
        },
        {
          "data": {"name": "candles"},
          "encoding": {
            "x": {"field": "i", "type": "quantitative"},
            "color": {"condition": {"test": "datum.c >= datum.o", "value": "#26a69a"}, "value": "#ef5350"}
          },
          "layer": [
            {"mark": {"type": "rule", "strokeWidth": 1, "opacity": 0.65}, "encoding": {"y": {"field": "l", "type": "quantitative"}, "y2": {"field": "h"}}},
            {"mark": {"type": "bar", "size": 3.8}, "encoding": {"y": {"field": "o", "type": "quantitative"}, "y2": {"field": "c"}}}
          ]
        },
        {
          "data": {"values": [{"p": 1.34437}]},
          "mark": {"type": "rule", "color": "#ef5350", "strokeWidth": 1, "strokeDash": [1, 2], "opacity": 0.7},
          "encoding": {"y": {"field": "p", "type": "quantitative"}}
        },
        {
          "data": {"values": [{"p": 1.35133}]},
          "mark": {"type": "rule", "color": "#ff9800", "strokeWidth": 2},
          "encoding": {"y": {"field": "p", "type": "quantitative"}}
        },
        {
          "data": {"values": [{"p": 1.34017}]},
          "mark": {"type": "rule", "color": "#ee22ee", "strokeWidth": 2},
          "encoding": {"y": {"field": "p", "type": "quantitative"}}
        },
        {
          "data": {"name": "tags"},
          "encoding": {
            "x": {"datum": 135.8, "type": "quantitative"},
            "y": {"field": "p", "type": "quantitative"}
          },
          "layer": [
            {"mark": {"type": "point", "shape": "M-1,-0.27H1V0.27H-1Z", "size": 1156, "filled": true, "opacity": 1}, "encoding": {"color": {"field": "k", "type": "nominal", "scale": {"domain": ["resistance", "support", "last"], "range": ["#ff9800", "#ee22ee", "#ef5350"]}, "legend": null}}},
            {"mark": {"type": "text", "color": "white", "fontSize": 7.5, "font": "Liberation Sans", "align": "center", "baseline": "middle"}, "encoding": {"text": {"field": "t"}}}
          ]
        },
        {
          "data": {"values": [{"p": 1.34437, "t": "02:19:10"}]},
          "encoding": {
            "x": {"datum": 135.8, "type": "quantitative"},
            "y": {"field": "p", "type": "quantitative"}
          },
          "layer": [
            {"mark": {"type": "point", "shape": "M-1,0.33H1V0.87H-1Z", "size": 1156, "filled": true, "opacity": 1, "color": "#ef5350"}},
            {"mark": {"type": "text", "color": "white", "fontSize": 7.5, "font": "Liberation Sans", "align": "center", "baseline": "middle", "dy": 10.3}, "encoding": {"text": {"field": "t"}}}
          ]
        }
      ]
    },
    {
      "width": 759,
      "height": 60,
      "title": {"text": "RSI (14, close)", "anchor": "start", "frame": "group", "offset": -14, "dx": 6, "font": "Liberation Sans", "fontSize": 7, "fontWeight": "normal", "color": "#4a4a4a"},
      "layer": [
        {
          "data": {"values": [{}]},
          "mark": {"type": "rect", "color": "#f2e7fc"},
          "encoding": {
            "y": {"datum": 70, "type": "quantitative", "scale": {"domain": [24.9, 85.4], "nice": false, "zero": false, "padding": 0}, "axis": {"orient": "right", "values": [40, 60, 80], "format": ".4f", "title": null, "grid": false, "tickSize": 3, "labelPadding": 2}},
            "y2": {"datum": 30}
          }
        },
        {
          "data": {"values": [{"p": 70}, {"p": 30}]},
          "mark": {"type": "rule", "color": "#b8b8c4", "strokeWidth": 1, "strokeDash": [3, 3]},
          "encoding": {"y": {"field": "p", "type": "quantitative"}}
        },
        {
          "data": {"name": "rsi"},
          "mark": {"type": "line", "color": "#f08a5d", "strokeWidth": 1},
          "encoding": {
            "x": {"field": "i", "type": "quantitative", "scale": {"domain": [-0.53, 132.63], "nice": false, "zero": false, "padding": 0}, "axis": {"values": [7.4,14.7,22.1,30,37.7,45.3,53,60.7,68.2,77.2,89.1,98.2,106,113.5,121.2,128.6], "labels": false, "ticks": false, "domain": false, "grid": true, "title": null}},
            "y": {"field": "v", "type": "quantitative"}
          }
        }
      ]
    },
    {
      "width": 759,
      "height": 58,
      "title": {"text": "MACD (12, 26, close, 9)", "anchor": "start", "frame": "group", "offset": -15, "dx": 6, "font": "Liberation Sans", "fontSize": 7, "fontWeight": "normal", "color": "#4a4a4a"},
      "layer": [
        {
          "data": {"name": "hist"},
          "mark": {"type": "bar", "size": 3.8},
          "encoding": {
            "x": {"field": "i", "type": "quantitative", "scale": {"domain": [-0.53, 132.63], "nice": false, "zero": false, "padding": 0},
              "axis": {"values": [7.4,14.7,22.1,30,37.7,45.3,53,60.7,68.2,77.2,89.1,98.2,106,113.5,121.2,128.6],
                "labelExpr": "{'7.4':'25','14.7':'13:00','22.1':'Apr','30':'13:00','37.7':'8','45.3':'13:00','53':'15','60.7':'13:00','68.2':'22','77.2':'25','89.1':'May','98.2':'6','106':'13:00','113.5':'13','121.2':'13:00','128.6':'20'}['' + datum.value]",
                "labelFontWeight": {"condition": {"test": "datum.label == 'Apr' || datum.label == 'May'", "value": "bold"}, "value": "normal"},
                "labelPadding": 5, "ticks": false, "domain": false, "grid": true,
                "title": "Created with TradingView", "titleAnchor": "start", "titleAlign": "left", "titlePadding": 9, "titleFontSize": 8, "titleFontWeight": "normal", "titleColor": "#333333"}},
            "y": {"field": "h", "type": "quantitative", "scale": {"domain": [-0.00254, 0.00403], "nice": false, "zero": false, "padding": 0}, "axis": {"orient": "right", "values": [-0.002, 0, 0.002, 0.004], "format": ".5f", "title": null, "grid": false, "tickSize": 3, "labelPadding": 2}},
            "color": {"field": "t", "type": "nominal", "scale": {"domain": ["up+", "dn+", "dn-", "up-"], "range": ["#26a69a", "#b2dfdb", "#ef5350", "#ffcdd2"]}, "legend": null}
          }
        },
        {
          "data": {"name": "macd"},
          "mark": {"type": "line", "color": "#4aa8f2", "strokeWidth": 1},
          "encoding": {"x": {"field": "i", "type": "quantitative"}, "y": {"field": "v", "type": "quantitative"}}
        },
        {
          "data": {"name": "signal"},
          "mark": {"type": "line", "color": "#f7953e", "strokeWidth": 1},
          "encoding": {"x": {"field": "i", "type": "quantitative"}, "y": {"field": "v", "type": "quantitative"}}
        }
      ]
    }
  ],
  "config": {
    "font": "Liberation Sans",
    "view": {"stroke": "#9598a1", "strokeWidth": 1},
    "axis": {"labelFont": "Liberation Sans", "labelFontSize": 7, "labelColor": "#50535e", "gridColor": "#eef1f6", "domainColor": "#9598a1", "tickColor": "#9598a1", "titleFont": "Liberation Sans"}
  }
}
